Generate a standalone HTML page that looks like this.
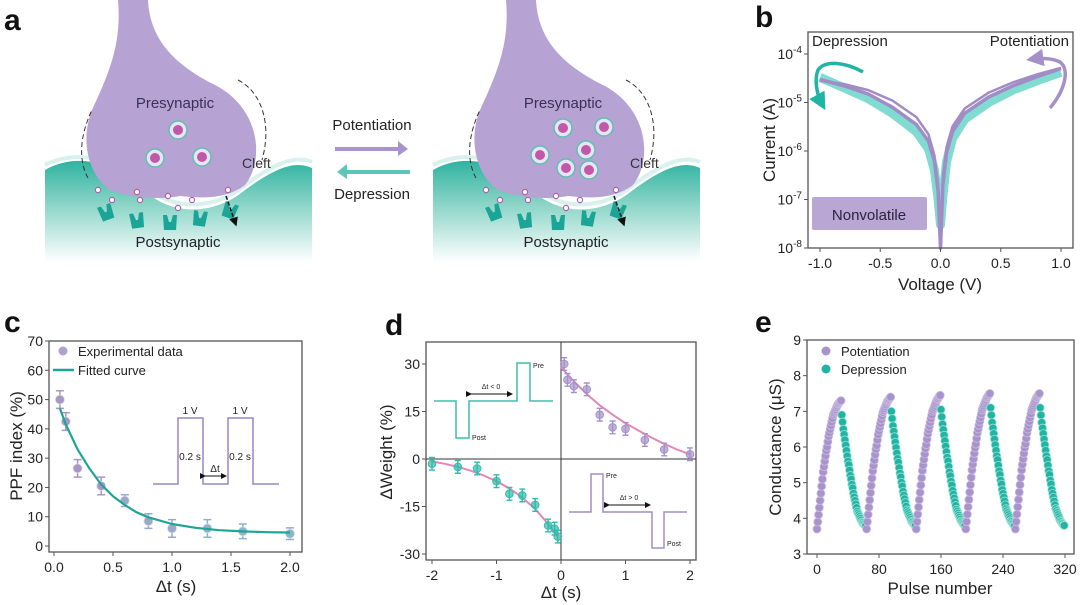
<!DOCTYPE html>
<html><head><meta charset="utf-8"><style>
html,body{margin:0;padding:0;background:#fff}
svg{display:block;font-family:"Liberation Sans",Arial,sans-serif}
</style></head><body>
<svg id="fig" width="1080" height="605" viewBox="0 0 1080 605">
<defs>
<linearGradient id="gteal" x1="0" y1="0" x2="0" y2="1">
<stop offset="0" stop-color="#2fb3a0"/><stop offset="0.45" stop-color="#8fd6c9"/><stop offset="1" stop-color="#ffffff"/>
</linearGradient>
<marker id="ahK" markerWidth="6" markerHeight="6" refX="5" refY="3" orient="auto"><path d="M0,0L6,3L0,6z" fill="#111"/></marker>
<marker id="ahT" markerWidth="5" markerHeight="5" refX="3" refY="2.5" orient="auto"><path d="M0,0L5,2.5L0,5z" fill="#1fb5a4"/></marker>
<marker id="ahP" markerWidth="5" markerHeight="5" refX="3" refY="2.5" orient="auto"><path d="M0,0L5,2.5L0,5z" fill="#a690c8"/></marker>
</defs>
<g id="panelA"></g>
<g id="panelB"></g>
<g id="panelC"></g>
<g id="panelD"></g>
<g id="panelE"></g>
</svg>
<script>
// ---------- data ----------
const bVolt=[-1,-0.8,-0.6,-0.4,-0.2,-0.1,-0.05,-0.02,0,0.02,0.05,0.1,0.2,0.4,0.6,0.8,1];
const bPurpleI=[3e-5,2.2e-5,1.5e-5,8e-6,3.5e-6,1.6e-6,6e-7,1.5e-7,1e-8,2e-7,9e-7,2.5e-6,6e-6,1.3e-5,2.2e-5,3.4e-5,5e-5];
const bPurpleI2=[2.8e-5,2.4e-5,1.8e-5,1.1e-5,5e-6,2.2e-6,8e-7,2e-7,2e-8,3e-7,1.2e-6,3.2e-6,7.5e-6,1.6e-5,2.6e-5,3.8e-5,5.2e-5];
const bTealI=[3.3e-5,2.0e-5,1.2e-5,6e-6,2.5e-6,1.1e-6,4e-7,1e-7,3e-8,1.2e-7,6e-7,1.8e-6,4.5e-6,1e-5,1.8e-5,2.8e-5,4.2e-5];
const bXTicks=[-1.0,-0.5,0.0,0.5,1.0];
const bYTicks=[-4,-5,-6,-7,-8];

const cX=[0.05,0.1,0.2,0.4,0.6,0.8,1.0,1.3,1.6,2.0];
const cY=[50,42.5,26.5,20.5,15.5,8.5,6,6,5,4.2];
const cErr=[3,3,3,3,2,2.5,3,3,2.5,2];
const cFitX=[0.05,0.1,0.2,0.3,0.4,0.5,0.6,0.7,0.8,1.0,1.2,1.4,1.6,1.8,2.0];
const cFitY=[47,41.5,33,26.5,21,17,14,11.5,9.8,7.5,6.2,5.4,5,4.7,4.6];
const cXTicks=[0.0,0.5,1.0,1.5,2.0];
const cYTicks=[0,10,20,30,40,50,60,70];

const dPosX=[0.05,0.1,0.2,0.4,0.6,0.8,1.0,1.3,1.6,2.0];
const dPosY=[30,25,23,22,14,10,9.5,6,3,1.5];
const dNegX=[-2,-1.6,-1.3,-1,-0.8,-0.6,-0.4,-0.2,-0.1,-0.05];
const dNegY=[-1.5,-2.5,-3,-7,-11,-11.5,-14.5,-21,-22,-24.5];
const dErr=2;
const dFitPosX=[0,0.2,0.4,0.6,0.8,1.0,1.2,1.4,1.6,1.8,2.0];
const dFitPosY=[29,24.5,20.5,17,14,11.3,9,6.8,4.8,3,1.5];
const dFitNegX=[-2,-1.8,-1.6,-1.4,-1.2,-1.0,-0.8,-0.6,-0.4,-0.2,-0.05];
const dFitNegY=[-0.8,-1.5,-2.5,-3.7,-5.2,-7,-9.3,-12.2,-15.8,-20.5,-24.5];
const dXTicks=[-2,-1,0,1,2];
const dYTicks=[30,15,0,-15,-30];

const ePotCycle=[3.7,3.9,4.1,4.3,4.5,4.7,4.9,5.1,5.3,5.45,5.6,5.75,5.9,6.0,6.15,6.3,6.4,6.5,6.6,6.7,6.8,6.9,6.95,7.0,7.05,7.1,7.15,7.2,7.22,7.25,7.28,7.3];
const eDepCycle=[6.9,6.7,6.5,6.35,6.2,6.05,5.9,5.75,5.6,5.5,5.35,5.2,5.1,4.95,4.85,4.7,4.6,4.5,4.4,4.3,4.2,4.15,4.1,4.05,4.0,3.95,3.9,3.88,3.85,3.83,3.8,3.8];
const ePeakShift=[0,0.1,0.15,0.2,0.2];
const eXTicks=[0,80,160,240,320];
const eYTicks=[3,4,5,6,7,8,9];

// ---------- helpers ----------
const NS='http://www.w3.org/2000/svg';
function mk(parent,tag,attrs,text){const e=document.createElementNS(NS,tag);for(const k in attrs)e.setAttribute(k,attrs[k]);if(text!==undefined)e.textContent=text;parent.appendChild(e);return e;}
function lin(d0,d1,r0,r1){return v=>r0+(v-d0)*(r1-r0)/(d1-d0);}
function pts(xs,ys,sx,sy){return xs.map((x,i)=>sx(x).toFixed(1)+','+sy(ys[i]).toFixed(1)).join(' ');}
function frame(g,x0,y0,x1,y1){const r=mk(g,'rect',{x:x0,y:y0,width:x1-x0,height:y1-y0,fill:'none',stroke:'#555','stroke-width':1.3});}
function label(g,txt,x,y,name){const t=mk(g,'text',{x:x,y:y,'font-size':30,'font-weight':'bold',fill:'#111'},txt);}

// ---------- panel a ----------
(function(){
const g=document.getElementById('panelA');
label(g,'a',4,30,'panel-label-a');
function synapse(dx,vesicles){
  const s=mk(g,'g',{transform:'translate('+dx+',0)'});
  
  
  mk(s,'path',{d:'M45,170 C80,150 120,165 150,195 C175,215 215,215 245,190 C275,168 295,160 312,168 L312,262 L45,262 Z',fill:'url(#gteal)'});
  mk(s,'path',{d:'M45,165 C80,148 120,160 150,190 C175,210 215,210 245,185 C275,163 295,155 312,162',fill:'none',stroke:'#d8f1ec','stroke-width':4});
  mk(s,'path',{d:'M118,0 L148,0 C150,40 175,65 215,85 C260,108 265,160 245,185 C225,200 200,198 180,196 C160,200 130,198 110,190 C88,175 80,140 92,110 C108,75 122,45 118,0 Z',fill:'#b7a3d3'});
  mk(s,'path',{d:'M88,178 C78,160 80,135 92,110',fill:'none',stroke:'#333','stroke-width':1,'stroke-dasharray':'5,3'});
  mk(s,'path',{d:'M238,80 C262,92 272,125 262,160',fill:'none',stroke:'#333','stroke-width':1,'stroke-dasharray':'5,3'});
  vesicles.forEach(v=>{mk(s,'circle',{cx:v[0],cy:v[1],r:9,fill:'#e9e3f3',stroke:'#5cc0b4','stroke-width':1.5});mk(s,'circle',{cx:v[0],cy:v[1],r:5,fill:'#c05aa8'});});
  [[98,190],[137,192],[140,200],[168,196],[192,200],[228,190],[112,200],[178,208]].forEach(p=>mk(s,'circle',{cx:p[0],cy:p[1],r:2.6,fill:'#fff',stroke:'#b060b0','stroke-width':1.2}));
  [[106,212,-20],[137,220,-8],[170,222,0],[200,218,8],[230,210,20]].forEach(p=>{mk(s,'path',{d:'M-7,-7 L-3,-7 L-1,0 L1,0 L3,-7 L7,-7 L6,8 L-6,8 Z',fill:'#1aa596',transform:'translate('+p[0]+','+p[1]+') rotate('+p[2]+')'});});
  mk(s,'line',{x1:226,y1:196,x2:236,y2:225,stroke:'#111','stroke-width':1.5,'stroke-dasharray':'4,2','marker-end':'url(#ahK)'});
  mk(s,'text',{x:175,y:108,'font-size':15,'text-anchor':'middle',fill:'#3b2f5a'},'Presynaptic');
  mk(s,'text',{x:242,y:168,'font-size':14,fill:'#333'},'Cleft');
  mk(s,'text',{x:178,y:247,'font-size':15,'text-anchor':'middle',fill:'#222'},'Postsynaptic');
}
synapse(0,[[178,130],[155,158],[202,157]]);
synapse(388,[[175,128],[152,155],[198,150],[216,127],[178,168],[201,170]]);
const t1=mk(g,'text',{x:372,y:130,'font-size':15,'text-anchor':'middle',fill:'#222'},'Potentiation');

mk(g,'path',{d:'M335,147 L398,147 L398,141 L408,149 L398,156 L398,151 L335,151 Z',fill:'#a893cc'});
mk(g,'path',{d:'M410,170 L347,170 L347,164 L337,172 L347,179 L347,174 L410,174 Z',fill:'#5cc7b8'});
const t2=mk(g,'text',{x:372,y:199,'font-size':15,'text-anchor':'middle',fill:'#222'},'Depression');

})();

// ---------- panel b ----------
(function(){
const g=document.getElementById('panelB');
label(g,'b',755,27,'panel-label-b');
const X0=808,X1=1073,Y0=32,Y1=248;
const sx=lin(-1,1,820,1061), sy=lin(-4,-8,54,248);
const lg=a=>a.map(v=>Math.log10(v));
mk(g,'rect',{x:812,y:197,width:115,height:33,rx:2,fill:'#b9a6d3'});
const c1=mk(g,'polyline',{points:pts(bVolt,lg(bTealI),sx,sy),fill:'none',stroke:'#3cc9b8','stroke-width':9,'stroke-opacity':0.65,'stroke-linejoin':'round'});

const c2=mk(g,'polyline',{points:pts(bVolt,lg(bPurpleI),sx,sy),fill:'none',stroke:'#a18cc6','stroke-width':3.5,'stroke-linejoin':'round'});

const c3=mk(g,'polyline',{points:pts(bVolt,lg(bPurpleI2),sx,sy),fill:'none',stroke:'#a18cc6','stroke-width':2.5,'stroke-linejoin':'round'});

frame(g,X0,Y0,X1,Y1);
bXTicks.forEach(v=>{mk(g,'line',{x1:sx(v),y1:Y1,x2:sx(v),y2:Y1+4,stroke:'#555'});mk(g,'text',{x:sx(v),y:Y1+20,'font-size':14,'text-anchor':'middle',fill:'#222'},v.toFixed(1));});
bYTicks.forEach(v=>{mk(g,'line',{x1:X0-4,y1:sy(v),x2:X0,y2:sy(v),stroke:'#555'});const t=mk(g,'text',{x:X0-6,y:sy(v)+5,'font-size':14,'text-anchor':'end',fill:'#222'},'10');mk(t,'tspan',{dy:-6,'font-size':10},String(v));});
mk(g,'text',{x:940,y:290,'font-size':17,'text-anchor':'middle',fill:'#222'},'Voltage (V)');
mk(g,'text',{x:0,y:0,'font-size':17,'text-anchor':'middle',fill:'#222',transform:'translate(775,140) rotate(-90)'},'Current (A)');
mk(g,'text',{x:812,y:46,'font-size':15,fill:'#222'},'Depression');
mk(g,'text',{x:1069,y:46,'font-size':15,'text-anchor':'end',fill:'#222'},'Potentiation');
mk(g,'text',{x:869,y:220,'font-size':15,'text-anchor':'middle',fill:'#2a2340'},'Nonvolatile');
mk(g,'path',{d:'M863,72 C845,62 825,60 818,70 C814,80 817,95 822,104',fill:'none',stroke:'#1fb5a4','stroke-width':3.5,'marker-end':'url(#ahT)'});
mk(g,'path',{d:'M1050,108 C1065,90 1070,70 1060,62 C1052,58 1040,58 1033,59',fill:'none',stroke:'#a690c8','stroke-width':3.5,'marker-end':'url(#ahP)'});
})();

// ---------- panel c ----------
(function(){
const g=document.getElementById('panelC');
label(g,'c',4,332,'panel-label-c');
const X0=49,X1=302,Y0=341,Y1=552;
const sx=lin(0,2,54,290), sy=lin(0,70,546,341);
frame(g,X0,Y0,X1,Y1);
cXTicks.forEach(v=>{mk(g,'line',{x1:sx(v),y1:Y1,x2:sx(v),y2:Y1+4,stroke:'#555'});mk(g,'text',{x:sx(v),y:Y1+20,'font-size':14,'text-anchor':'middle',fill:'#222'},v.toFixed(1));});
cYTicks.forEach(v=>{mk(g,'line',{x1:X0-4,y1:sy(v),x2:X0,y2:sy(v),stroke:'#555'});mk(g,'text',{x:X0-6,y:sy(v)+5,'font-size':14,'text-anchor':'end',fill:'#222'},String(v));});
mk(g,'text',{x:176,y:592,'font-size':17,'text-anchor':'middle',fill:'#222'},'Δt (s)');
mk(g,'text',{x:0,y:0,'font-size':17,'text-anchor':'middle',fill:'#222',transform:'translate(22,446) rotate(-90)'},'PPF index (%)');
// inset pulses
const ins=mk(g,'polyline',{points:'153,484 178,484 178,418 203,418 203,484 228,484 228,418 253,418 253,484 279,484',fill:'none',stroke:'#9a86c2','stroke-width':1.5});

mk(g,'text',{x:190,y:414,'font-size':10,'text-anchor':'middle',fill:'#222'},'1 V');
mk(g,'text',{x:240,y:414,'font-size':10,'text-anchor':'middle',fill:'#222'},'1 V');
mk(g,'text',{x:190,y:460,'font-size':10,'text-anchor':'middle',fill:'#222'},'0.2 s');
mk(g,'text',{x:240,y:460,'font-size':10,'text-anchor':'middle',fill:'#222'},'0.2 s');
mk(g,'text',{x:215,y:472,'font-size':10,'text-anchor':'middle',fill:'#222'},'Δt');
mk(g,'line',{x1:205,y1:476,x2:226,y2:476,stroke:'#111','stroke-width':1,'marker-end':'url(#ahK)','marker-start':'url(#ahK)'});
// points
cX.forEach((x,i)=>{
  const col=i<4?'#a996c9':(i<7?'#9aa8cc':'#8ab4cc');
  const px=sx(x),py=sy(cY[i]),e1=sy(cY[i]+cErr[i]),e2=sy(cY[i]-cErr[i]);
  mk(g,'path',{d:`M${px},${e1}V${e2}M${px-4},${e1}H${px+4}M${px-4},${e2}H${px+4}`,stroke:col,'stroke-width':1.5});
  const c=mk(g,'circle',{cx:px,cy:py,r:4.5,fill:col,stroke:'#ddd','stroke-width':0.8});
  
  
});
const fit=mk(g,'polyline',{points:pts(cFitX,cFitY,sx,sy),fill:'none',stroke:'#1fa596','stroke-width':2.2,'stroke-linejoin':'round'});

// legend
const lg=mk(g,'g',{});

mk(lg,'circle',{cx:63,cy:351,r:4.5,fill:'#b1a2cc'});
mk(lg,'text',{x:78,y:356,'font-size':13,fill:'#222'},'Experimental data');
mk(lg,'line',{x1:53,y1:370,x2:74,y2:370,stroke:'#1fa596','stroke-width':2.5});
mk(lg,'text',{x:78,y:375,'font-size':13,fill:'#222'},'Fitted curve');
})();

// ---------- panel d ----------
(function(){
const g=document.getElementById('panelD');
label(g,'d',385,335,'panel-label-d');
const X0=426,X1=696,Y0=342,Y1=560;
const sx=lin(-2,2,432,690), sy=lin(30,-30,364,554);
frame(g,X0,Y0,X1,Y1);
mk(g,'line',{x1:sx(0),y1:Y0,x2:sx(0),y2:Y1,stroke:'#333','stroke-width':1});
mk(g,'line',{x1:X0,y1:sy(0),x2:X1,y2:sy(0),stroke:'#333','stroke-width':1});
dXTicks.forEach(v=>{mk(g,'line',{x1:sx(v),y1:Y1,x2:sx(v),y2:Y1+4,stroke:'#555'});mk(g,'text',{x:sx(v),y:Y1+20,'font-size':14,'text-anchor':'middle',fill:'#222'},String(v));});
dYTicks.forEach(v=>{mk(g,'line',{x1:X0-4,y1:sy(v),x2:X0,y2:sy(v),stroke:'#555'});mk(g,'text',{x:X0-6,y:sy(v)+5,'font-size':14,'text-anchor':'end',fill:'#222'},String(v));});
mk(g,'text',{x:561,y:598,'font-size':17,'text-anchor':'middle',fill:'#222'},'Δt (s)');
mk(g,'text',{x:0,y:0,'font-size':17,'text-anchor':'middle',fill:'#222',transform:'translate(392,452) rotate(-90)'},'ΔWeight (%)');
// insets
const i1=mk(g,'polyline',{points:'434,401 456,401 456,438 469,438 469,401 517,401 517,363 530,363 530,401 553,401',fill:'none',stroke:'#3bbfae','stroke-width':1.5});

mk(g,'line',{x1:471,y1:394,x2:512,y2:394,stroke:'#111','stroke-width':1,'marker-end':'url(#ahK)','marker-start':'url(#ahK)'});
mk(g,'text',{x:491,y:389,'font-size':7,'text-anchor':'middle',fill:'#222'},'Δt < 0');
mk(g,'text',{x:533,y:368,'font-size':7,fill:'#222'},'Pre');
mk(g,'text',{x:472,y:440,'font-size':7,fill:'#222'},'Post');
const i2=mk(g,'polyline',{points:'569,512 591,512 591,474 603,474 603,512 652,512 652,548 664,548 664,512 687,512',fill:'none',stroke:'#a08dc4','stroke-width':1.5});

mk(g,'line',{x1:609,y1:505,x2:650,y2:505,stroke:'#111','stroke-width':1,'marker-end':'url(#ahK)','marker-start':'url(#ahK)'});
mk(g,'text',{x:629,y:500,'font-size':7,'text-anchor':'middle',fill:'#222'},'Δt > 0');
mk(g,'text',{x:606,y:478,'font-size':7,fill:'#222'},'Pre');
mk(g,'text',{x:667,y:546,'font-size':7,fill:'#222'},'Post');
// fits
const f1=mk(g,'polyline',{points:pts(dFitPosX,dFitPosY,sx,sy),fill:'none',stroke:'#e386b8','stroke-width':2});

const f2=mk(g,'polyline',{points:pts(dFitNegX,dFitNegY,sx,sy),fill:'none',stroke:'#e386b8','stroke-width':2});

function pt(x,y,col,name){
  const px=sx(x),py=sy(y),e1=sy(y+dErr),e2=sy(y-dErr);
  mk(g,'path',{d:`M${px},${e1}V${e2}M${px-3},${e1}H${px+3}M${px-3},${e2}H${px+3}`,stroke:col,'stroke-width':1.4});
  const c=mk(g,'circle',{cx:px,cy:py,r:3.8,fill:col,'fill-opacity':0.7,stroke:col,'stroke-width':1});
  
  
}
dPosX.forEach((x,i)=>pt(x,dPosY[i],'#a592c8','ltp-data-point'));
dNegX.forEach((x,i)=>pt(x,dNegY[i],'#2fbcaa','ltd-data-point'));
})();

// ---------- panel e ----------
(function(){
const g=document.getElementById('panelE');
label(g,'e',755,332,'panel-label-e');
const X0=807,X1=1074,Y0=340,Y1=554;
const sx=lin(0,320,817,1065), sy=lin(3,9,554,340);
frame(g,X0,Y0,X1,Y1);
eXTicks.forEach(v=>{mk(g,'line',{x1:sx(v),y1:Y1,x2:sx(v),y2:Y1+4,stroke:'#555'});mk(g,'text',{x:sx(v),y:Y1+20,'font-size':14,'text-anchor':'middle',fill:'#222'},String(v));});
eYTicks.forEach(v=>{mk(g,'line',{x1:X0-4,y1:sy(v),x2:X0,y2:sy(v),stroke:'#555'});mk(g,'text',{x:X0-6,y:sy(v)+5,'font-size':14,'text-anchor':'end',fill:'#222'},String(v));});
mk(g,'text',{x:940,y:594,'font-size':17,'text-anchor':'middle',fill:'#222'},'Pulse number');
mk(g,'text',{x:0,y:0,'font-size':17,'text-anchor':'middle',fill:'#222',transform:'translate(781,447) rotate(-90)'},'Conductance (μS)');
const n=ePotCycle.length;
ePeakShift.forEach((sh,c)=>{
  ePotCycle.forEach((v,i)=>{
    const k=c*2*n+i;
    const p=mk(g,'circle',{cx:sx(k),cy:sy(v+sh*i/(n-1)),r:4,fill:'#a893cc',stroke:'#c8bbe0','stroke-width':0.8});
    
    
  });
  eDepCycle.forEach((v,i)=>{
    const k=c*2*n+n+i;
    const p=mk(g,'circle',{cx:sx(k),cy:sy(v+sh*(n-1-i)/(n-1)),r:4,fill:'#22b4a3',stroke:'#9be3d8','stroke-width':0.8});
    
    
  });
});
const lg=mk(g,'g',{});

mk(lg,'circle',{cx:826,cy:351,r:4.5,fill:'#a893cc'});
mk(lg,'text',{x:841,y:356,'font-size':13,fill:'#222'},'Potentiation');
mk(lg,'circle',{cx:826,cy:369,r:4.5,fill:'#22b4a3'});
mk(lg,'text',{x:841,y:374,'font-size':13,fill:'#222'},'Depression');
})();
</script>
</body></html>
